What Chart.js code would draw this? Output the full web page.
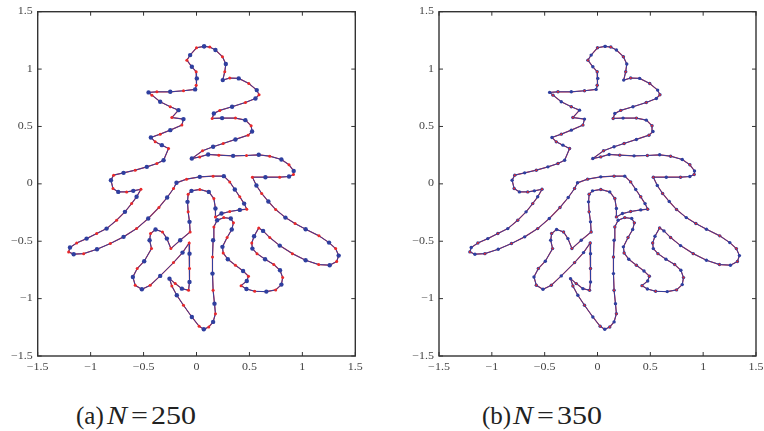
<!DOCTYPE html>
<html>
<head>
<meta charset="utf-8">
<script src="https://cdn.jsdelivr.net/npm/chart.js@4.4.1/dist/chart.umd.min.js"></script>
<style>
  body { margin: 0; background: #fff; width: 764px; height: 431px; position: relative; overflow: hidden; }
  canvas { position: absolute; top: 0; }
  .cap { position: absolute; top: 403px; font-family: "Liberation Serif", "DejaVu Serif", serif; font-size: 25px; line-height: 25px; color: #222; white-space: nowrap; transform-origin: left top; }
  .cap.w { transform: scaleX(1.2); }
  .cap i { font-style: italic; }
</style>
</head>
<body>
<canvas id="chartA" width="380" height="380" style="left:0px"></canvas>
<canvas id="chartB" width="364" height="380" style="left:400px"></canvas>
<div class="cap" style="left:76px">(a)</div>
<div class="cap w" style="left:107px"><i>N</i></div>
<div class="cap w" style="left:131px">=</div>
<div class="cap w" style="left:151px">250</div>
<div class="cap" style="left:482px">(b)</div>
<div class="cap w" style="left:513px"><i>N</i></div>
<div class="cap w" style="left:537px">=</div>
<div class="cap w" style="left:557px">350</div>

<script>
// contour of the glyph (closed curve)
const outlineX = [
  0.072, 0.000, -0.060, -0.091, -0.044, -0.003, 0.003, -0.003, -0.013, -0.123,
  -0.248, -0.374, -0.453, -0.421, -0.343, -0.248, -0.170, -0.233, -0.123, -0.138,
  -0.248, -0.343, -0.431, -0.390, -0.327, -0.264, -0.311, -0.374, -0.469, -0.579,
  -0.689, -0.783, -0.808, -0.789, -0.739, -0.660, -0.597, -0.525, -0.566, -0.613,
  -0.676, -0.755, -0.849, -0.943, -1.038, -1.132, -1.195, -1.208, -1.160, -1.066,
  -0.940, -0.814, -0.689, -0.566, -0.456, -0.355, -0.277, -0.217, -0.189, -0.094,
  0.031, 0.157, 0.258, 0.314, 0.362, 0.409, 0.450, 0.475, 0.409, 0.314,
  0.236, 0.179, 0.179, 0.164, 0.116, 0.031, -0.047, -0.079, -0.085, -0.079,
  -0.066, -0.060, -0.154, -0.242, -0.280, -0.321, -0.387, -0.434, -0.443, -0.425,
  -0.494, -0.560, -0.601, -0.579, -0.516, -0.437, -0.343, -0.217, -0.132, -0.069,
  -0.066, -0.066, -0.066, -0.075, -0.138, -0.201, -0.255, -0.233, -0.186, -0.123,
  -0.044, 0.025, 0.069, 0.116, 0.157, 0.179, 0.170, 0.157, 0.151, 0.151,
  0.157, 0.164, 0.195, 0.258, 0.324, 0.349, 0.333, 0.289, 0.245, 0.252,
  0.296, 0.368, 0.440, 0.491, 0.475, 0.421, 0.472, 0.550, 0.660, 0.748,
  0.802, 0.814, 0.789, 0.730, 0.648, 0.572, 0.528, 0.522, 0.544, 0.588,
  0.629, 0.692, 0.786, 0.906, 1.031, 1.154, 1.258, 1.324, 1.343, 1.314,
  1.252, 1.157, 1.031, 0.931, 0.840, 0.748, 0.679, 0.616, 0.566, 0.528,
  0.651, 0.786, 0.874, 0.915, 0.918, 0.874, 0.802, 0.692, 0.588, 0.472,
  0.346, 0.211, 0.110, 0.031, -0.044, 0.057, 0.157, 0.252, 0.368, 0.487,
  0.525, 0.516, 0.462, 0.368, 0.242, 0.148, 0.164, 0.220, 0.336, 0.462,
  0.557, 0.591, 0.569, 0.494, 0.399, 0.314, 0.248, 0.267, 0.277, 0.245,
  0.179, 0.126
];
const outlineY = [
  1.198, 1.186, 1.122, 1.078, 1.020, 0.977, 0.919, 0.860, 0.823, 0.811,
  0.802, 0.802, 0.797, 0.773, 0.715, 0.672, 0.642, 0.578, 0.564, 0.512,
  0.468, 0.433, 0.404, 0.366, 0.337, 0.308, 0.206, 0.177, 0.148, 0.119,
  0.096, 0.076, 0.032, -0.041, -0.070, -0.070, -0.061, -0.047, -0.113, -0.172,
  -0.244, -0.317, -0.390, -0.433, -0.477, -0.515, -0.555, -0.593, -0.613, -0.608,
  -0.570, -0.520, -0.462, -0.390, -0.302, -0.206, -0.119, -0.041, 0.009, 0.041,
  0.061, 0.067, 0.067, 0.017, -0.049, -0.113, -0.172, -0.221, -0.227, -0.241,
  -0.259, -0.288, -0.215, -0.128, -0.070, -0.049, -0.061, -0.090, -0.157, -0.244,
  -0.331, -0.419, -0.491, -0.564, -0.477, -0.419, -0.398, -0.433, -0.491, -0.564,
  -0.674, -0.738, -0.811, -0.884, -0.919, -0.884, -0.802, -0.686, -0.599, -0.515,
  -0.608, -0.738, -0.855, -0.927, -0.913, -0.869, -0.826, -0.890, -0.971, -1.058,
  -1.160, -1.241, -1.267, -1.247, -1.203, -1.131, -1.044, -0.927, -0.782, -0.637,
  -0.491, -0.375, -0.317, -0.294, -0.302, -0.340, -0.398, -0.468, -0.549, -0.602,
  -0.657, -0.709, -0.759, -0.805, -0.846, -0.887, -0.916, -0.936, -0.939, -0.924,
  -0.878, -0.817, -0.753, -0.703, -0.657, -0.608, -0.564, -0.515, -0.456, -0.384,
  -0.410, -0.468, -0.538, -0.608, -0.666, -0.703, -0.709, -0.677, -0.625, -0.564,
  -0.512, -0.453, -0.395, -0.346, -0.294, -0.224, -0.154, -0.084, -0.015, 0.058,
  0.058, 0.058, 0.064, 0.081, 0.113, 0.166, 0.212, 0.241, 0.253, 0.247,
  0.244, 0.250, 0.256, 0.235, 0.221, 0.288, 0.323, 0.352, 0.387, 0.424,
  0.456, 0.506, 0.555, 0.573, 0.573, 0.570, 0.613, 0.640, 0.672, 0.709,
  0.744, 0.776, 0.817, 0.875, 0.919, 0.922, 0.904, 0.977, 1.044, 1.108,
  1.166, 1.192
];

const tickValues = [-1.5, -1, -0.5, 0, 0.5, 1, 1.5];
const tickLabels = ['\u22121.5', '\u22121', '\u22120.5', '0', '0.5', '1', '1.5'];

const RED = '#e8292b';
const BLUE = '#2f3f9f';

// frame with inward ticks on all four sides + tick labels
const framePlugin = {
  id: 'frame',
  afterDraw(chart) {
    const { ctx, chartArea: a, scales } = chart;
    ctx.save();
    ctx.strokeStyle = '#333';
    ctx.lineWidth = 1.4;
    ctx.strokeRect(a.left, a.top, a.right - a.left, a.bottom - a.top);
    ctx.lineWidth = 1;
    tickValues.forEach(v => {
      const px = scales.x.getPixelForValue(v);
      const py = scales.y.getPixelForValue(v);
      ctx.beginPath();
      ctx.moveTo(px, a.bottom); ctx.lineTo(px, a.bottom - 4);
      ctx.moveTo(px, a.top); ctx.lineTo(px, a.top + 4);
      ctx.moveTo(a.left, py); ctx.lineTo(a.left + 4, py);
      ctx.moveTo(a.right, py); ctx.lineTo(a.right - 4, py);
      ctx.stroke();
    });
    ctx.fillStyle = '#444';
    ctx.font = '10px "Liberation Serif", "DejaVu Serif", serif';
    ctx.textBaseline = 'middle';
    tickValues.forEach((v, i) => {
      const px = scales.x.getPixelForValue(v);
      const py = scales.y.getPixelForValue(v);
      ctx.save();
      ctx.translate(a.left - 5, py);
      ctx.scale(1.2, 1);
      ctx.textAlign = 'right';
      ctx.fillText(tickLabels[i], 0, 0);
      ctx.restore();
      ctx.save();
      ctx.translate(px, a.bottom + 11);
      ctx.scale(1.2, 1);
      ctx.textAlign = 'center';
      ctx.fillText(tickLabels[i], 0, 0);
      ctx.restore();
    });
    ctx.restore();
  }
};

function makeChart(id, padLeft, padRight, dense) {
  const pts = outlineX.map((x, i) => ({ x: x, y: outlineY[i] }));
  pts.push(pts[0]);
  const odd = c => c.dataIndex % 2 === 1;
  return new Chart(document.getElementById(id), {
    type: 'scatter',
    data: {
      datasets: [
        { // red dots on top
          data: pts, showLine: false, order: 0,
          pointRadius: c => odd(c) ? (dense ? 1.0 : 1.5) : 0,
          pointBackgroundColor: RED, pointBorderWidth: 0
        },
        { // blue polygon with nodes
          data: pts, showLine: true, order: 1,
          borderColor: BLUE, borderWidth: 1,
          pointRadius: c => dense ? 1.7 : (odd(c) ? 0 : 2.2),
          pointBackgroundColor: BLUE, pointBorderWidth: 0
        },
        { // red reference curve
          data: pts, showLine: true, order: 2,
          borderColor: RED, borderWidth: 1.2, pointRadius: 0
        }
      ]
    },
    options: {
      responsive: false,
      animation: false,
      layout: { padding: { left: padLeft, right: padRight, top: 11.7, bottom: 24 } },
      scales: {
        x: { type: 'linear', min: -1.5, max: 1.5, display: false },
        y: { type: 'linear', min: -1.5, max: 1.5, display: false }
      },
      plugins: { legend: { display: false }, tooltip: { enabled: false } }
    },
    plugins: [framePlugin]
  });
}

makeChart('chartA', 37.7, 24.7, false);
makeChart('chartB', 39, 8, true);
</script>
</body>
</html>
